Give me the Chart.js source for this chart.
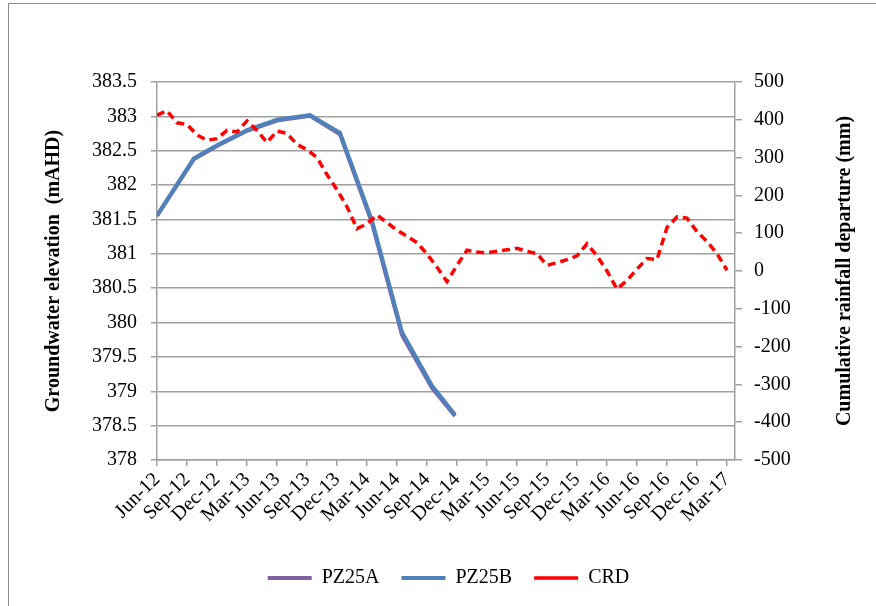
<!DOCTYPE html>
<html>
<head>
<meta charset="utf-8">
<script src="https://cdn.jsdelivr.net/npm/chart.js@4.4.1/dist/chart.umd.min.js"></script>
<style>
    body { margin: 0; background: #fff; }
    #wrap { position: relative; width: 876px; height: 606px; overflow: hidden; }
    #frame { position: absolute; left: 8px; top: 3px; width: 900px; height: 700px; border-left: 1px solid #8c8c8c; border-top: 1px solid #8c8c8c; }
    #chart { position: absolute; left: 0; top: 0; }
</style>
</head>
<body>
<div id="wrap">
    <div id="frame"></div>
    <canvas id="chart" width="876" height="606"></canvas>
</div>
<script>
// quarterly tick labels, one every 3 months starting Jun-12
const quarterLabels = ['Jun-12', 'Sep-12', 'Dec-12', 'Mar-13', 'Jun-13', 'Sep-13', 'Dec-13', 'Mar-14', 'Jun-14', 'Sep-14',
    'Dec-14', 'Mar-15', 'Jun-15', 'Sep-15', 'Dec-15', 'Mar-16', 'Jun-16', 'Sep-16', 'Dec-16', 'Mar-17'];

// groundwater levels (mAHD), x = months since Jun-12
const pz25aMonths = [0, 3.7, 6, 9, 12, 15.3, 18.3, 21.5, 24.5, 27.5, 29.8];
const pz25aValues = [381.55, 382.38, 382.57, 382.79, 382.94, 383.01, 382.74, 381.45, 379.82, 379.05, 378.64];
const pz25bMonths = [0, 3.7, 6, 9, 12, 15.3, 18.3, 21.5, 24.5, 27.5, 29.8];
const pz25bValues = [381.56, 382.39, 382.58, 382.80, 382.95, 383.02, 382.76, 381.48, 379.86, 379.08, 378.66];

// cumulative rainfall departure (mm), monthly from Jun-12 to Mar-17
const crdValues = [
    412, 424, 392, 388, 360, 346, 350, 372, 368, 397,
    372, 340, 370, 364, 335, 321, 300, 255, 215, 170,
    112, 125, 148, 128, 108, 92, 75, 45, 10, -28,
    15, 55, 50, 48, 52, 56, 60, 52, 46, 15,
    22, 30, 40, 72, 40, 0, -48, -25, 5, 33,
    30, 115, 143, 140, 104, 78, 46, 2
];

const rightTitle = 'Cumulative rainfall departure (mm)';

const toPoints = (xs, ys) => xs.map((x, i) => ({ x: x, y: ys[i] }));

const serif = "'Liberation Serif', 'Times New Roman', serif";
const gridGray = '#a0a0a0';

// right axis title reads bottom-to-top, like the left one
const rightTitlePlugin = {
    id: 'rightTitle',
    afterDraw(chart) {
        const { ctx, chartArea } = chart;
        ctx.save();
        ctx.translate(845, (chartArea.top + chartArea.bottom) / 2);
        ctx.rotate(-Math.PI / 2);
        ctx.textAlign = 'center';
        ctx.textBaseline = 'middle';
        ctx.fillStyle = '#000';
        ctx.font = 'bold 20px ' + serif;
        ctx.fillText(rightTitle, 0, 0);
        ctx.restore();
    }
};

new Chart(document.getElementById('chart'), {
    type: 'line',
    data: {
        datasets: [
            {
                label: 'PZ25A',
                data: toPoints(pz25aMonths, pz25aValues),
                yAxisID: 'y',
                borderColor: '#8064A2',
                backgroundColor: '#8064A2',
                borderWidth: 4,
                pointRadius: 0,
                order: 3,
            },
            {
                label: 'PZ25B',
                data: toPoints(pz25bMonths, pz25bValues),
                yAxisID: 'y',
                borderColor: '#4F81BD',
                backgroundColor: '#4F81BD',
                borderWidth: 4,
                pointRadius: 0,
                order: 2,
            },
            {
                label: 'CRD',
                data: crdValues.map((v, i) => ({ x: i, y: v })),
                yAxisID: 'y1',
                borderColor: '#FF0000',
                backgroundColor: '#FF0000',
                borderWidth: 3.5,
                borderDash: [8, 5],
                pointRadius: 0,
                order: 1,
            },
        ]
    },
    options: {
        responsive: false,
        animation: false,
        layout: {
            padding: { left: 38, right: 17, top: 82, bottom: 8 },
        },
        plugins: {
            legend: {
                position: 'bottom',
                labels: {
                    usePointStyle: true,
                    pointStyle: 'line',
                    pointStyleWidth: 44,
                    padding: 22,
                    color: '#000',
                    font: { family: serif, size: 20 },
                    sort: (a, b) => a.datasetIndex - b.datasetIndex,
                },
            },
            tooltip: { enabled: false },
        },
        scales: {
            x: {
                type: 'linear',
                min: 0,
                max: 57.8,
                afterBuildTicks: (scale) => {
                    scale.ticks = quarterLabels.map((_, i) => ({ value: i * 3 }));
                },
                afterFit: (scale) => { scale.height = 86; },
                ticks: {
                    autoSkip: false,
                    minRotation: 45,
                    maxRotation: 45,
                    padding: 2,
                    color: '#000',
                    font: { family: serif, size: 20 },
                    callback: (value) => quarterLabels[Math.round(value / 3)],
                },
                grid: {
                    drawOnChartArea: false,
                    drawTicks: true,
                    tickLength: 6,
                    color: gridGray,
                    lineWidth: 1.5,
                },
                border: { display: true, color: gridGray, width: 1.5 },
            },
            y: {
                position: 'left',
                min: 378,
                max: 383.5,
                afterFit: (scale) => { scale.width = 119; },
                ticks: {
                    stepSize: 0.5,
                    padding: 14,
                    color: '#000',
                    font: { family: serif, size: 20 },
                    callback: (value) => String(value),
                },
                grid: {
                    color: gridGray,
                    lineWidth: 1.5,
                    tickLength: 6,
                },
                border: { display: true, color: gridGray, width: 1.5 },
                title: {
                    display: true,
                    text: 'Groundwater elevation  (mAHD)',
                    color: '#000',
                    font: { family: serif, size: 20, weight: 'bold' },
                },
            },
            y1: {
                position: 'right',
                min: -500,
                max: 500,
                afterFit: (scale) => { scale.width = 124; },
                ticks: {
                    stepSize: 100,
                    padding: 12,
                    color: '#000',
                    font: { family: serif, size: 20 },
                    callback: (value) => String(value),
                },
                grid: {
                    drawOnChartArea: false,
                    color: gridGray,
                    lineWidth: 1.5,
                    tickLength: 7,
                },
                border: { display: true, color: gridGray, width: 1.5 },
            },
        },
    },
    plugins: [rightTitlePlugin],
});
</script>
</body>
</html>
